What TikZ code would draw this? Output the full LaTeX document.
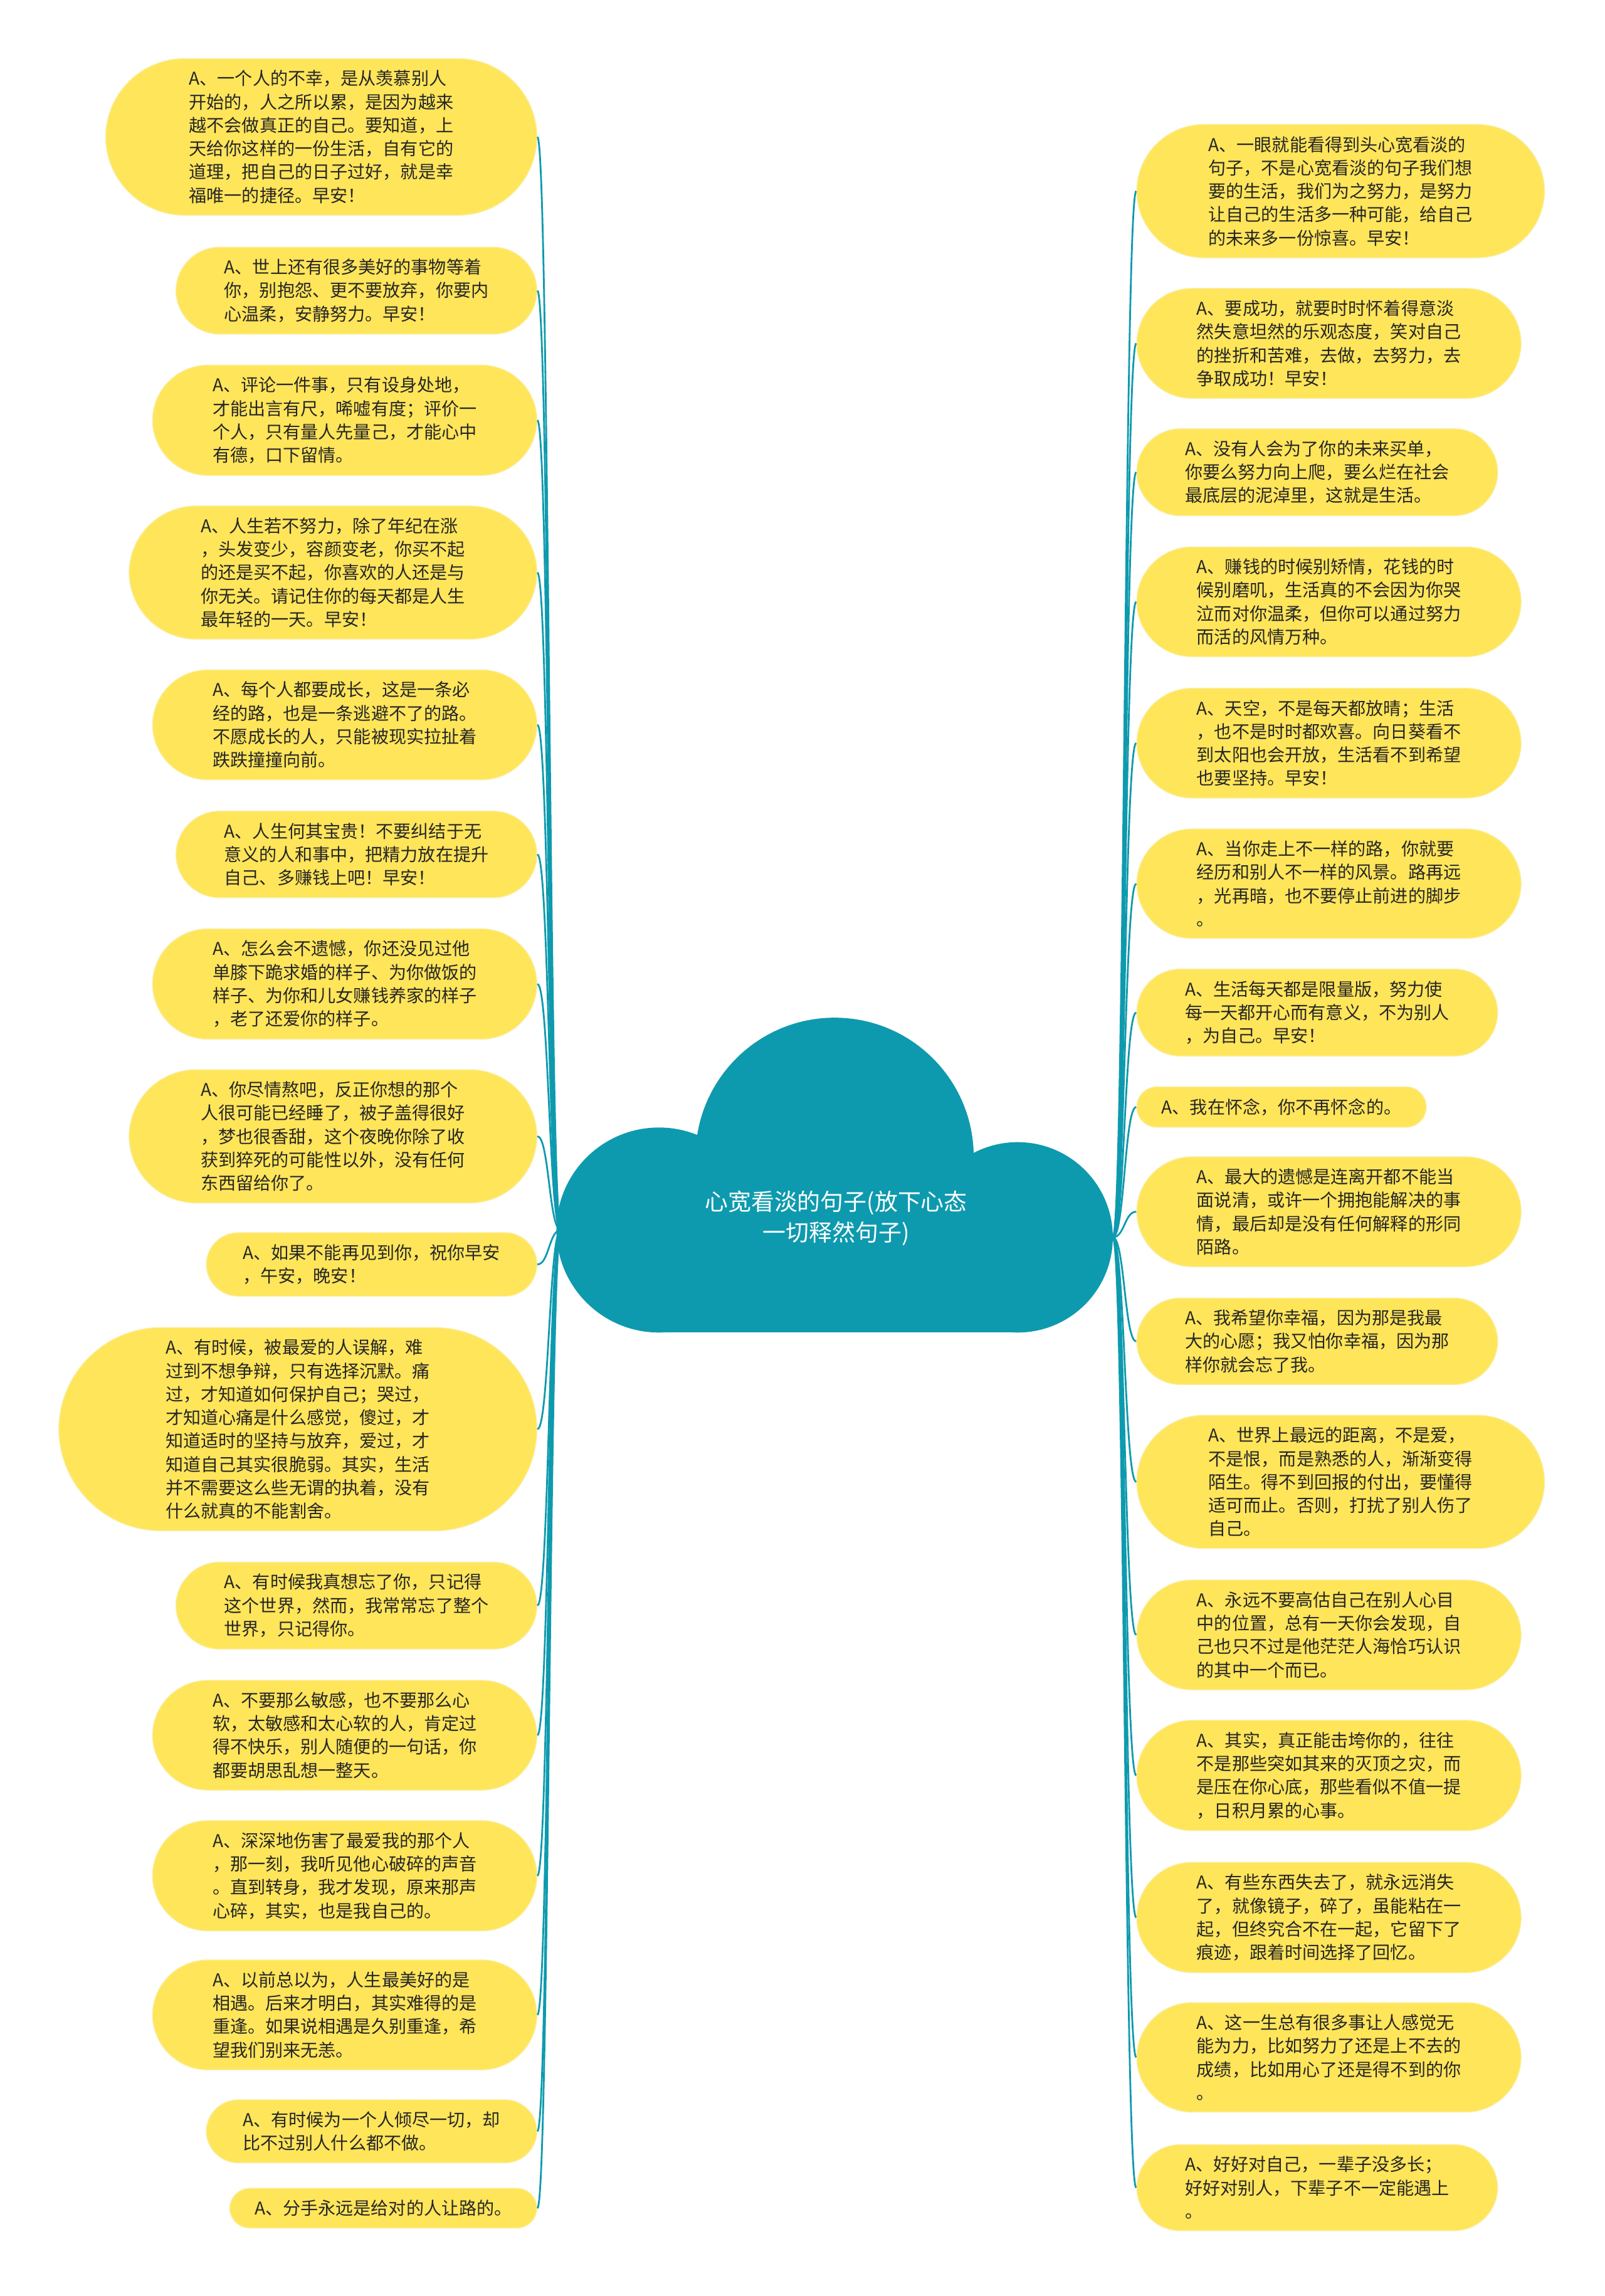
\documentclass[tikz,border=0pt]{standalone}
\usepackage{fontspec}
\setmainfont{Noto Sans CJK SC}
\usepackage{xcolor}
\usepackage{tikz}

\definecolor{hubteal}{RGB}{14,154,174}
\definecolor{leafyellow}{RGB}{255,229,90}
\definecolor{leafrim}{RGB}{250,238,160}
\definecolor{leaftext}{RGB}{38,38,38}

\begin{document}
\begin{tikzpicture}[
    x=0.023358cm, y=-0.023358cm,
    leaf/.style={rectangle, rounded corners={(8*#1+5.9)*0.023358cm},
                 inner xsep={(8*#1+9)*0.023358cm}, inner ysep=0.187cm,
                 fill=leafyellow, draw=leafrim, line width=0.4pt, align=left, text=leaftext,
                 font=\fontsize{8pt}{10.6pt}\selectfont},
    lleaf/.style={leaf=#1, anchor=east},
    rleaf/.style={leaf=#1, anchor=west},
    hub/.style={align=center, text=white, font=\fontsize{10.5pt}{13.9pt}\selectfont},
    link/.style={draw=hubteal, line width=0.8pt},
]
  \useasboundingbox (0,0) rectangle (1096,1568);
  % Cloud
  \fill[hubteal] (570,790) circle[radius=95];
  \fill[hubteal] (450,840) circle[radius=70];
  \fill[hubteal] (695,845) circle[radius=65];
  \fill[hubteal] (450,800) rectangle (695,910);
  \node[hub] (hub) at (571,832) {心宽看淡的句子(放下心态\\一切释然句子)};
  \coordinate (hl) at (383,840);
  \coordinate (hr) at (760,845);
  % Left branch
  \node[lleaf=6] (l1) at (367,93.5) {A、一个人的不幸，是从羡慕别人\\开始的，人之所以累，是因为越来\\越不会做真正的自己。要知道，上\\天给你这样的一份生活，自有它的\\道理，把自己的日子过好，就是幸\\福唯一的捷径。早安！};
  \node[lleaf=3] (l2) at (367,198.5) {A、世上还有很多美好的事物等着\\你，别抱怨、更不要放弃，你要内\\心温柔，安静努力。早安！};
  \node[lleaf=4] (l3) at (367,287) {A、评论一件事，只有设身处地，\\才能出言有尺，唏嘘有度；评价一\\个人，只有量人先量己，才能心中\\有德，口下留情。};
  \node[lleaf=5] (l4) at (367,391) {A、人生若不努力，除了年纪在涨\\，头发变少，容颜变老，你买不起\\的还是买不起，你喜欢的人还是与\\你无关。请记住你的每天都是人生\\最年轻的一天。早安！};
  \node[lleaf=4] (l5) at (367,495) {A、每个人都要成长，这是一条必\\经的路，也是一条逃避不了的路。\\不愿成长的人，只能被现实拉扯着\\跌跌撞撞向前。};
  \node[lleaf=3] (l6) at (367,583.5) {A、人生何其宝贵！不要纠结于无\\意义的人和事中，把精力放在提升\\自己、多赚钱上吧！早安！};
  \node[lleaf=4] (l7) at (367,672) {A、怎么会不遗憾，你还没见过他\\单膝下跪求婚的样子、为你做饭的\\样子、为你和儿女赚钱养家的样子\\，老了还爱你的样子。};
  \node[lleaf=5] (l8) at (367,776) {A、你尽情熬吧，反正你想的那个\\人很可能已经睡了，被子盖得很好\\，梦也很香甜，这个夜晚你除了收\\获到猝死的可能性以外，没有任何\\东西留给你了。};
  \node[lleaf=2] (l9) at (367,863.5) {A、如果不能再见到你，祝你早安\\，午安，晚安！};
  \node[lleaf=8] (l10) at (367,976) {A、有时候，被最爱的人误解，难\\过到不想争辩，只有选择沉默。痛\\过，才知道如何保护自己；哭过，\\才知道心痛是什么感觉，傻过，才\\知道适时的坚持与放弃，爱过，才\\知道自己其实很脆弱。其实，生活\\并不需要这么些无谓的执着，没有\\什么就真的不能割舍。};
  \node[lleaf=3] (l11) at (367,1096.5) {A、有时候我真想忘了你，只记得\\这个世界，然而，我常常忘了整个\\世界，只记得你。};
  \node[lleaf=4] (l12) at (367,1185) {A、不要那么敏感，也不要那么心\\软，太敏感和太心软的人，肯定过\\得不快乐，别人随便的一句话，你\\都要胡思乱想一整天。};
  \node[lleaf=4] (l13) at (367,1281) {A、深深地伤害了最爱我的那个人\\，那一刻，我听见他心破碎的声音\\。直到转身，我才发现，原来那声\\心碎，其实，也是我自己的。};
  \node[lleaf=4] (l14) at (367,1376) {A、以前总以为，人生最美好的是\\相遇。后来才明白，其实难得的是\\重逢。如果说相遇是久别重逢，希\\望我们别来无恙。};
  \node[lleaf=2] (l15) at (367,1455.5) {A、有时候为一个人倾尽一切，却\\比不过别人什么都不做。};
  \node[lleaf=1] (l16) at (367,1508) {A、分手永远是给对的人让路的。};
  % Right branch
  \node[rleaf=5] (r1) at (776,130.5) {A、一眼就能看得到头心宽看淡的\\句子，不是心宽看淡的句子我们想\\要的生活，我们为之努力，是努力\\让自己的生活多一种可能，给自己\\的未来多一份惊喜。早安！};
  \node[rleaf=4] (r2) at (776,234.5) {A、要成功，就要时时怀着得意淡\\然失意坦然的乐观态度，笑对自己\\的挫折和苦难，去做，去努力，去\\争取成功！早安！};
  \node[rleaf=3] (r3) at (776,322.5) {A、没有人会为了你的未来买单，\\你要么努力向上爬，要么烂在社会\\最底层的泥淖里，这就是生活。};
  \node[rleaf=4] (r4) at (776,411) {A、赚钱的时候别矫情，花钱的时\\候别磨叽，生活真的不会因为你哭\\泣而对你温柔，但你可以通过努力\\而活的风情万种。};
  \node[rleaf=4] (r5) at (776,507.5) {A、天空，不是每天都放晴；生活\\，也不是时时都欢喜。向日葵看不\\到太阳也会开放，生活看不到希望\\也要坚持。早安！};
  \node[rleaf=4] (r6) at (776,603.5) {A、当你走上不一样的路，你就要\\经历和别人不一样的风景。路再远\\，光再暗，也不要停止前进的脚步\\。};
  \node[rleaf=3] (r7) at (776,691.5) {A、生活每天都是限量版，努力使\\每一天都开心而有意义，不为别人\\，为自己。早安！};
  \node[rleaf=1] (r8) at (776,756) {A、我在怀念，你不再怀念的。};
  \node[rleaf=4] (r9) at (776,827.5) {A、最大的遗憾是连离开都不能当\\面说清，或许一个拥抱能解决的事\\情，最后却是没有任何解释的形同\\陌路。};
  \node[rleaf=3] (r10) at (776,916) {A、我希望你幸福，因为那是我最\\大的心愿；我又怕你幸福，因为那\\样你就会忘了我。};
  \node[rleaf=5] (r11) at (776,1012) {A、世界上最远的距离，不是爱，\\不是恨，而是熟悉的人，渐渐变得\\陌生。得不到回报的付出，要懂得\\适可而止。否则，打扰了别人伤了\\自己。};
  \node[rleaf=4] (r12) at (776,1116.5) {A、永远不要高估自己在别人心目\\中的位置，总有一天你会发现，自\\己也只不过是他茫茫人海恰巧认识\\的其中一个而已。};
  \node[rleaf=4] (r13) at (776,1212.5) {A、其实，真正能击垮你的，往往\\不是那些突如其来的灭顶之灾，而\\是压在你心底，那些看似不值一提\\，日积月累的心事。};
  \node[rleaf=4] (r14) at (776,1309.5) {A、有些东西失去了，就永远消失\\了，就像镜子，碎了，虽能粘在一\\起，但终究合不在一起，它留下了\\痕迹，跟着时间选择了回忆。};
  \node[rleaf=4] (r15) at (776,1405) {A、这一生总有很多事让人感觉无\\能为力，比如努力了还是上不去的\\成绩，比如用心了还是得不到的你\\。};
  \node[rleaf=3] (r16) at (776,1494) {A、好好对自己，一辈子没多长；\\好好对别人，下辈子不一定能遇上\\。};
  % Left links
  \draw[link] (hl) .. controls +(-8,0) and +(8,0) .. (l1.east);
  \draw[link] (hl) .. controls +(-8,0) and +(8,0) .. (l2.east);
  \draw[link] (hl) .. controls +(-8,0) and +(8,0) .. (l3.east);
  \draw[link] (hl) .. controls +(-8,0) and +(8,0) .. (l4.east);
  \draw[link] (hl) .. controls +(-8,0) and +(8,0) .. (l5.east);
  \draw[link] (hl) .. controls +(-8,0) and +(8,0) .. (l6.east);
  \draw[link] (hl) .. controls +(-8,0) and +(8,0) .. (l7.east);
  \draw[link] (hl) .. controls +(-8,0) and +(8,0) .. (l8.east);
  \draw[link] (hl) .. controls +(-8,0) and +(8,0) .. (l9.east);
  \draw[link] (hl) .. controls +(-8,0) and +(8,0) .. (l10.east);
  \draw[link] (hl) .. controls +(-8,0) and +(8,0) .. (l11.east);
  \draw[link] (hl) .. controls +(-8,0) and +(8,0) .. (l12.east);
  \draw[link] (hl) .. controls +(-8,0) and +(8,0) .. (l13.east);
  \draw[link] (hl) .. controls +(-8,0) and +(8,0) .. (l14.east);
  \draw[link] (hl) .. controls +(-8,0) and +(8,0) .. (l15.east);
  \draw[link] (hl) .. controls +(-8,0) and +(8,0) .. (l16.east);
  % Right links
  \draw[link] (hr) .. controls +(8,0) and +(-8,0) .. (r1.west);
  \draw[link] (hr) .. controls +(8,0) and +(-8,0) .. (r2.west);
  \draw[link] (hr) .. controls +(8,0) and +(-8,0) .. (r3.west);
  \draw[link] (hr) .. controls +(8,0) and +(-8,0) .. (r4.west);
  \draw[link] (hr) .. controls +(8,0) and +(-8,0) .. (r5.west);
  \draw[link] (hr) .. controls +(8,0) and +(-8,0) .. (r6.west);
  \draw[link] (hr) .. controls +(8,0) and +(-8,0) .. (r7.west);
  \draw[link] (hr) .. controls +(8,0) and +(-8,0) .. (r8.west);
  \draw[link] (hr) .. controls +(8,0) and +(-8,0) .. (r9.west);
  \draw[link] (hr) .. controls +(8,0) and +(-8,0) .. (r10.west);
  \draw[link] (hr) .. controls +(8,0) and +(-8,0) .. (r11.west);
  \draw[link] (hr) .. controls +(8,0) and +(-8,0) .. (r12.west);
  \draw[link] (hr) .. controls +(8,0) and +(-8,0) .. (r13.west);
  \draw[link] (hr) .. controls +(8,0) and +(-8,0) .. (r14.west);
  \draw[link] (hr) .. controls +(8,0) and +(-8,0) .. (r15.west);
  \draw[link] (hr) .. controls +(8,0) and +(-8,0) .. (r16.west);
\end{tikzpicture}
\end{document}
